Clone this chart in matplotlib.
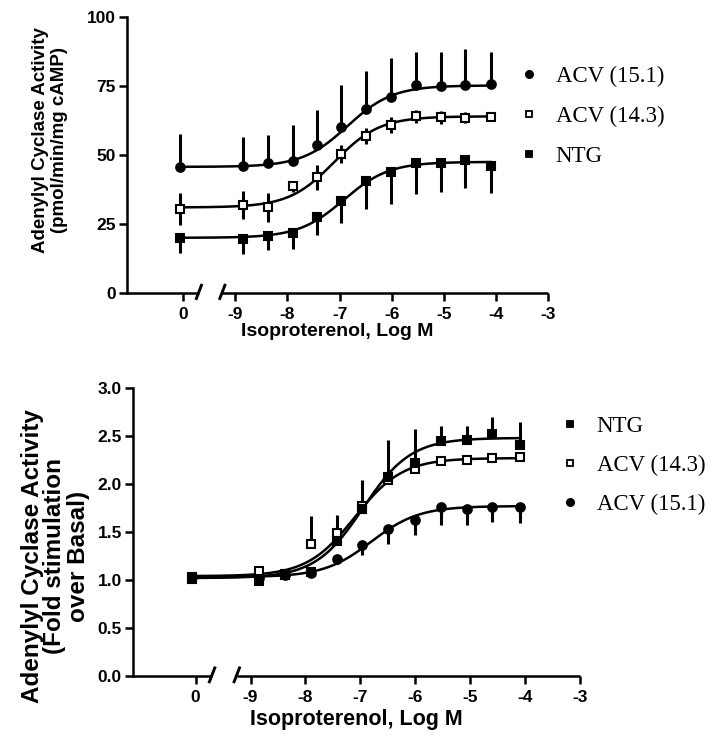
import numpy as np
import matplotlib
matplotlib.use('Agg')
import matplotlib.pyplot as plt
from matplotlib.lines import Line2D

plt.rcParams['font.family'] = ['Liberation Sans', 'DejaVu Sans']
plt.rcParams['font.weight'] = 'bold'
plt.rcParams['axes.labelweight'] = 'bold'

# ---------------- data ----------------
log_conc = [-10.07, -8.85, -8.38, -7.9, -7.43, -6.97, -6.49, -6.01, -5.54, -5.05, -4.6, -4.1]
x_ticks = [-10, -9, -8, -7, -6, -5, -4, -3]
x_ticklabels = ['0', '-9', '-8', '-7', '-6', '-5', '-4', '-3']

# top panel: pmol/min/mg
top_acv151 = [45.6, 45.9, 47.0, 47.9, 53.7, 60.3, 66.6, 71.0, 75.4, 75.1, 75.5, 75.6]
top_acv151_err_up = [12.1, 10.5, 10.3, 12.9, 12.5, 14.9, 13.9, 14.1, 11.8, 12.3, 12.8, 11.6]
top_acv143 = [30.5, 31.8, 31.0, 38.7, 42.0, 50.4, 56.9, 60.7, 64.0, 63.6, 63.5, 63.9]
top_acv143_err = [5.8, 5.0, 5.4, 2.0, 4.5, 3.4, 3.0, 2.9, 2.4, 2.4, 2.0, 1.0]
top_ntg = [20.0, 19.4, 20.7, 21.9, 27.5, 33.2, 40.6, 43.9, 47.1, 47.2, 48.3, 46.1]
top_ntg_err_dn = [5.6, 5.4, 5.1, 5.8, 6.6, 7.9, 10.0, 11.6, 11.1, 10.5, 10.1, 10.0]
# fitted sigmoid parameters (bottom, top, logEC50)
top_fit_acv151 = [45.7, 75.2, -6.85]
top_fit_acv143 = [31.0, 64.0, -7.1]
top_fit_ntg = [20.0, 47.5, -6.92]

# bottom panel: fold stimulation over basal
bot_ntg = [1.01, 0.985, 1.05, 1.08, 1.41, 1.74, 2.07, 2.22, 2.45, 2.46, 2.52, 2.41]
bot_ntg_err_up = [0.02, 0.02, 0.02, 0.02, 0.05, 0.30, 0.39, 0.35, 0.15, 0.14, 0.18, 0.24]
bot_acv143 = [1.03, 1.09, 1.06, 1.38, 1.49, 1.77, 2.04, 2.16, 2.24, 2.25, 2.27, 2.28]
bot_acv143_err_up = [0.0, 0.02, 0.0, 0.29, 0.19, 0.02, 0.02, 0.02, 0.02, 0.02, 0.02, 0.02]
bot_acv151 = [1.03, 1.02, 1.05, 1.07, 1.22, 1.36, 1.53, 1.63, 1.76, 1.74, 1.76, 1.76]
bot_acv151_err_dn = [0.0, 0.0, 0.0, 0.02, 0.05, 0.10, 0.15, 0.16, 0.19, 0.17, 0.16, 0.17]
bot_fit_ntg = [1.02, 2.48, -6.95]
bot_fit_acv143 = [1.04, 2.27, -7.1]
bot_fit_acv151 = [1.03, 1.77, -6.8]

labels = ['ACV (15.1)', 'ACV (14.3)', 'NTG']

# ---------------- figure ----------------
W, H = 717, 744
fig = plt.figure(figsize=(W / 100, H / 100), dpi=100)
ax1 = fig.add_axes([127 / W, 451 / H, 421 / W, 276 / H])
ax2 = fig.add_axes([133 / W, 68 / H, 447 / W, 288 / H])

LW = 1.8


def sigmoid(x, p):
    b, t, ec = p
    return b + (t - b) / (1 + 10 ** (ec - x))


def style(ax, xlim, ylim, yticks, yticklabels):
    ax.set_xlim(xlim)
    ax.set_ylim(ylim)
    for s in ['top', 'right', 'bottom']:
        ax.spines[s].set_visible(False)
    ax.spines['left'].set_linewidth(LW)
    ax.set_xticks(x_ticks, x_ticklabels)
    ax.set_yticks(yticks, yticklabels)
    ax.tick_params(direction='out', length=6, width=LW, labelsize=12.5, pad=2)
    ax.tick_params(axis='x', pad=4)
    # broken x axis line
    ax.plot([xlim[0], -9.7], [ylim[0]] * 2, color='k', lw=LW, clip_on=False,
            solid_capstyle='butt')
    ax.plot([-9.25, xlim[1]], [ylim[0]] * 2, color='k', lw=LW, clip_on=False,
            solid_capstyle='butt')
    span = xlim[1] - xlim[0]
    for xb in (-9.7, -9.25):
        xa = (xb - xlim[0]) / span
        ax.plot([xa - 0.006, xa + 0.006], [-0.02, 0.028], color='k', lw=LW + 0.3,
                transform=ax.transAxes, clip_on=False)


def series(ax, y, yerr, fitp, marker, mfc, ms, label):
    ax.errorbar(log_conc, y, yerr=yerr, fmt='none', ecolor='k', elinewidth=2.2,
                capsize=0, zorder=2)
    xs = np.linspace(log_conc[0], log_conc[-1], 300)
    ax.plot(xs, sigmoid(xs, fitp), color='k', lw=LW, zorder=3)
    ax.plot(log_conc, y, linestyle='none', marker=marker, mfc=mfc, mec='k',
            mew=1.5, ms=ms, zorder=4, clip_on=False)
    return Line2D([], [], linestyle='none', marker=marker, mfc=mfc, mec='k',
                  mew=1.3, ms=ms - 1.0, label=label)


# ---- top panel ----
style(ax1, (-11.08, -3.0), (0, 100), [0, 25, 50, 75, 100],
      ['0', '25', '50', '75', '100'])
zero = [0] * len(log_conc)
h1 = series(ax1, top_acv151, [zero, top_acv151_err_up], top_fit_acv151, 'o', 'k', 6.2, labels[0])
h2 = series(ax1, top_acv143, [top_acv143_err, top_acv143_err], top_fit_acv143, 's', 'white', 5.6, labels[1])
h3 = series(ax1, top_ntg, [top_ntg_err_dn, zero], top_fit_ntg, 's', 'k', 5.6, labels[2])
ax1.set_xlabel('Isoproterenol, Log M', fontsize=14, labelpad=1)
fig.text(50 / W, 1 - 140 / H, 'Adenylyl Cyclase Activity\n(pmol/min/mg cAMP)',
         rotation=90, ha='center', va='center', fontsize=13.5, multialignment='center',
         linespacing=1.12)
leg_font = {'family': ['Liberation Serif'], 'weight': 'normal', 'size': 16.5}
fig.legend(handles=[h1, h2, h3], loc='upper left', frameon=False, prop=leg_font,
           bbox_to_anchor=(520 / W, 1 - 66 / H), handlelength=0.8,
           handletextpad=0.75, labelspacing=0.82, borderaxespad=0, borderpad=0)

# ---- bottom panel ----
style(ax2, (-11.14, -3.0), (0, 3.0), [0, 0.5, 1.0, 1.5, 2.0, 2.5, 3.0],
      ['0.0', '0.5', '1.0', '1.5', '2.0', '2.5', '3.0'])
g1 = series(ax2, bot_acv151, [bot_acv151_err_dn, zero], bot_fit_acv151, 'o', 'k', 6.2, labels[0])
g2 = series(ax2, bot_acv143, [zero, bot_acv143_err_up], bot_fit_acv143, 's', 'white', 5.6, labels[1])
g3 = series(ax2, bot_ntg, [zero, bot_ntg_err_up], bot_fit_ntg, 's', 'k', 5.6, labels[2])
ax2.set_xlabel('Isoproterenol, Log M', fontsize=15.5, labelpad=3)
fig.text(55 / W, 1 - 556 / H, 'Adenylyl Cyclase Activity\n(Fold stimulation\nover Basal)',
         rotation=90, ha='center', va='center', fontsize=17.5, multialignment='center',
         linespacing=1.0)
fig.legend(handles=[g3, g2, g1], loc='upper left', frameon=False, prop=leg_font,
           bbox_to_anchor=(561 / W, 1 - 416 / H), handlelength=0.8,
           handletextpad=0.75, labelspacing=0.78, borderaxespad=0, borderpad=0)

fig.savefig('out.png', dpi=100)
